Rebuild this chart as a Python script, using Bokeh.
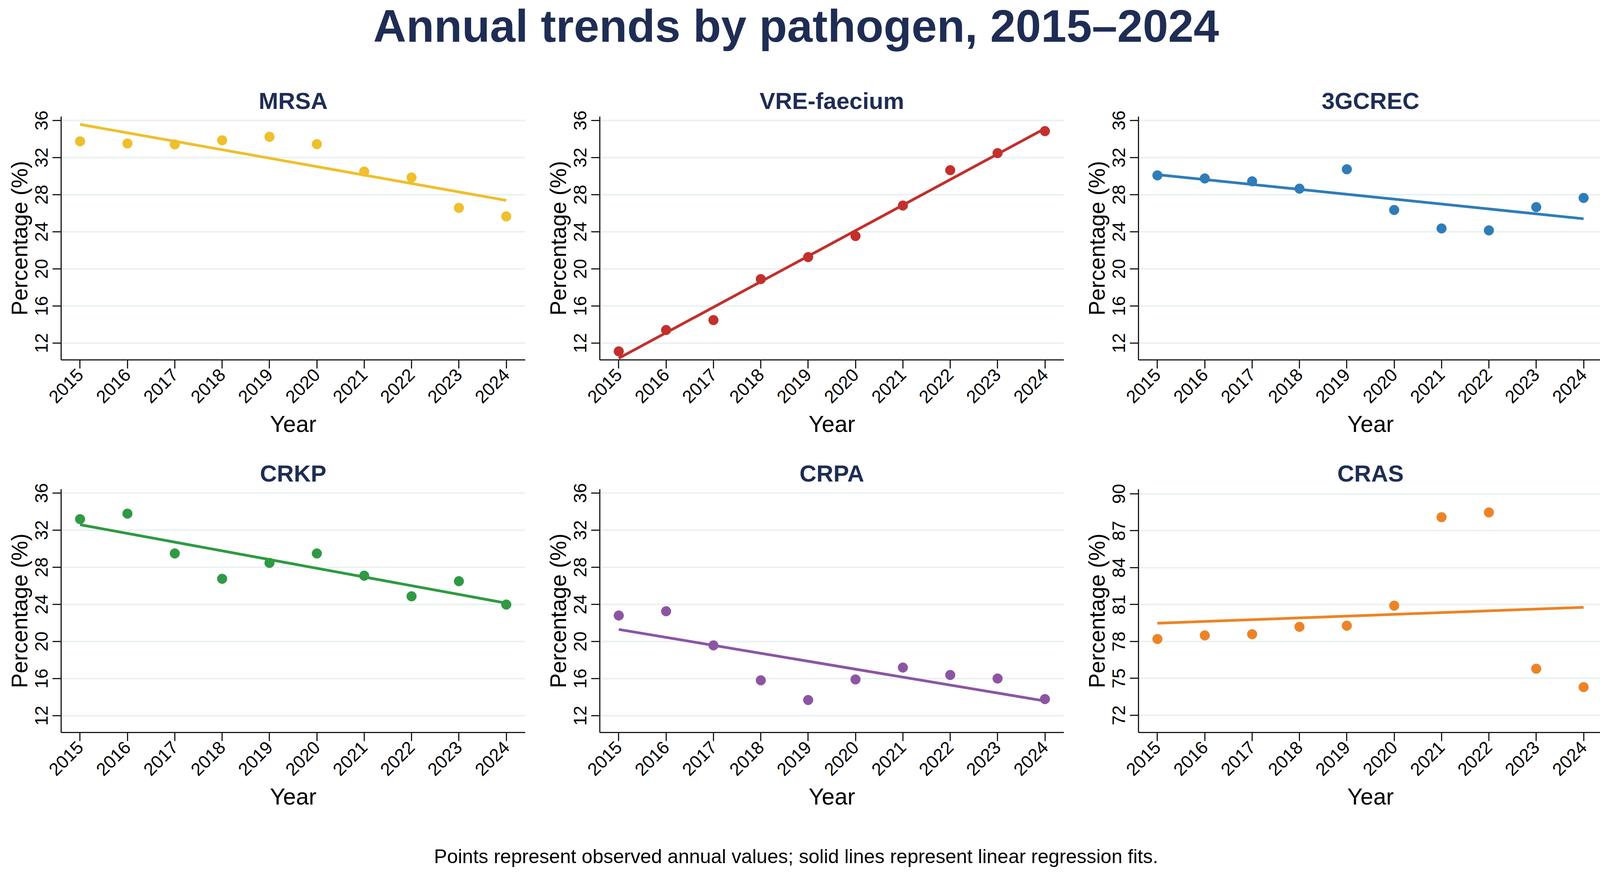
import numpy as np
from bokeh.plotting import figure
from bokeh.layouts import column, row
from bokeh.models import Range1d, FixedTicker, Label
from bokeh.embed import file_html
from bokeh.resources import INLINE

years = [2015, 2016, 2017, 2018, 2019, 2020, 2021, 2022, 2023, 2024]
mrsa = [33.75, 33.52, 33.42, 33.86, 34.24, 33.45, 30.49, 29.85, 26.58, 25.66]
vre_faecium = [11.11, 13.41, 14.48, 18.90, 21.27, 23.54, 26.83, 30.64, 32.48, 34.85]
gcrec3 = [30.08, 29.75, 29.44, 28.65, 30.74, 26.35, 24.36, 24.15, 26.66, 27.65]
crkp = [33.19, 33.78, 29.49, 26.76, 28.47, 29.49, 27.09, 24.87, 26.50, 23.98]
crpa = [22.80, 23.26, 19.58, 15.81, 13.69, 15.91, 17.19, 16.39, 16.01, 13.79]
cras = [78.20, 78.49, 78.59, 79.19, 79.28, 80.91, 88.10, 88.49, 75.78, 74.29]

names = ["MRSA", "VRE-faecium", "3GCREC", "CRKP", "CRPA", "CRAS"]
series = [mrsa, vre_faecium, gcrec3, crkp, crpa, cras]
colors = ["#efbf2c", "#c2302d", "#2f7db8", "#2f9a43", "#8c55a4", "#ec8427"]
pct_ticks = [12, 16, 20, 24, 28, 32, 36]
cras_ticks = [72, 75, 78, 81, 84, 87, 90]

title_text = "Annual trends by pathogen, 2015\u20132024"
footer_text = "Points represent observed annual values; solid lines represent linear regression fits."

NAVY = "#1f2d54"
FONT = "Liberation Sans"
TOTAL_W = 4115
COL_W = 1379
FRAME_W = 1188
FRAME_H = 623
TOP_H = 198
FOOT_H = 144
TEXT_DX = -21
TEXT_DY = 37


def make_panel(i):
    name = names[i]
    vals = series[i]
    color = colors[i]
    if name == "CRAS":
        yr = Range1d(70.6, 90.38)
        ticks = cras_ticks
    else:
        yr = Range1d(10.19, 36.42)
        ticks = pct_ticks
    last = (i % 3 == 2)
    w = TOTAL_W - 2 * COL_W if last else COL_W
    p = figure(width=w, height=954, x_range=Range1d(2014.6, 2024.4), y_range=yr,
               output_backend="svg", toolbar_location=None,
               min_border_left=156, min_border_right=w - 156 - FRAME_W,
               min_border_top=100, min_border_bottom=954 - 100 - FRAME_H)
    p.outline_line_color = None
    p.background_fill_color = "white"
    p.border_fill_color = "white"
    p.title.text = name
    p.title.align = "center"
    p.title.text_font = FONT
    p.title.text_font_style = "bold"
    p.title.text_font_size = "60px"
    p.title.text_color = NAVY
    p.title.standoff = 14

    p.xgrid.grid_line_color = None
    p.ygrid.grid_line_color = "#e9f1f2"
    p.ygrid.grid_line_width = 4

    p.xaxis.ticker = FixedTicker(ticks=years)
    p.yaxis.ticker = FixedTicker(ticks=ticks)
    for ax in (p.xaxis[0], p.yaxis[0]):
        ax.axis_line_color = "#1a1a1a"
        ax.axis_line_width = 3
        ax.major_tick_line_color = "#1a1a1a"
        ax.major_tick_line_width = 3
        ax.major_tick_out = 22
        ax.major_tick_in = 0
        ax.minor_tick_line_color = None
        ax.major_label_text_font = FONT
        ax.major_label_text_font_size = "46px"
        ax.major_label_text_color = "black"
        ax.axis_label_text_font = FONT
        ax.axis_label_text_font_style = "normal"
        ax.axis_label_text_color = "black"
    p.xaxis.axis_label = "Year"
    p.xaxis.axis_label_text_font_size = "59px"
    p.xaxis.major_label_orientation = np.pi / 4
    p.xaxis.major_label_standoff = 8
    p.xaxis.axis_label_standoff = 4
    p.yaxis.axis_label = "Percentage (%)"
    p.yaxis.axis_label_text_font_size = "57px"
    p.yaxis.major_label_orientation = "vertical"
    p.yaxis.major_label_standoff = 12
    p.yaxis.axis_label_standoff = 6

    slope, intercept = np.polyfit(years, vals, 1)
    fx = [years[0], years[-1]]
    fy = [intercept + slope * x for x in fx]
    p.line(fx, fy, line_color=color, line_width=7)
    p.scatter(years, vals, size=25, fill_color=color, line_color=color)
    return p


def text_fig(height, text, size, style, color, baseline_from_top):
    f = figure(width=TOTAL_W, height=height, x_range=Range1d(0, TOTAL_W), y_range=Range1d(0, height),
               output_backend="svg", toolbar_location=None, title=None,
               x_axis_location=None, y_axis_location=None, min_border=0)
    f.outline_line_color = None
    f.xgrid.visible = False
    f.ygrid.visible = False
    f.add_layout(Label(x=4133 / 2 - 8 + TEXT_DX, y=height - baseline_from_top + TEXT_DY, text=text,
                       text_align="center", text_baseline="alphabetic",
                       text_font=FONT, text_font_size=size, text_font_style=style,
                       text_color=color))
    return f


top = text_fig(TOP_H, title_text, "117px", "bold", NAVY, 103)
panels = [make_panel(i) for i in range(6)]
foot = text_fig(FOOT_H, footer_text, "50px", "normal", "black", 2229 - (TOP_H + 2 * 954))

layout = column(top, row(*panels[:3], spacing=0), row(*panels[3:], spacing=0), foot, spacing=0)

open("out.html", "w").write(file_html(layout, INLINE))
